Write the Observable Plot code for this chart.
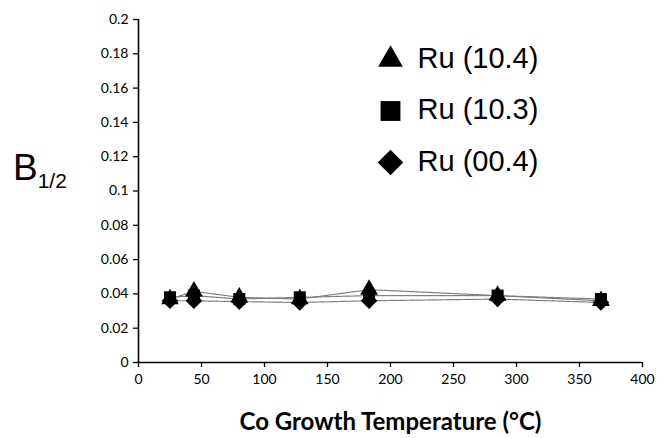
<!DOCTYPE html>
<html>
<head>
<meta charset="utf-8">
<script src="https://cdn.jsdelivr.net/npm/d3@7"></script>
<script src="https://cdn.jsdelivr.net/npm/@observablehq/plot@0.6"></script>
<style>
  html, body { margin: 0; padding: 0; background: #fff; }
  #chart { position: relative; width: 665px; height: 438px; }
  #chart svg { display: block; overflow: visible; }
</style>
</head>
<body>
<div id="chart"></div>
<script>
// Data
const temps = [25, 44, 80, 128, 183, 285, 367];
const ru104 = [0.037, 0.0415, 0.038, 0.037, 0.0425, 0.039, 0.036]; // triangle
const ru103 = [0.038, 0.039, 0.037, 0.038, 0.039, 0.039, 0.037];   // square
const ru004 = [0.036, 0.036, 0.0355, 0.035, 0.036, 0.037, 0.035];  // diamond
const seriesNames = ["Ru (10.4)", "Ru (10.3)", "Ru (00.4)"];
const seriesSymbols = ["triangle", "square", "diamond2"];
const xTicks = [0, 50, 100, 150, 200, 250, 300, 350, 400];
const yTicks = [0, 0.02, 0.04, 0.06, 0.08, 0.1, 0.12, 0.14, 0.16, 0.18, 0.2];

const seriesValues = [ru104, ru103, ru004];
const rows = [];
seriesValues.forEach((vals, s) => {
  vals.forEach((v, i) => rows.push({series: seriesNames[s], x: temps[i], y: v}));
});
const legendRows = seriesNames.map((name, i) => ({name, symbol: seriesSymbols[i], i}));

const symbolR = {"triangle": 6.6, "square": 6.8, "diamond2": 7.5};
const legendR = {"triangle": 9.2, "square": 11.2, "diamond2": 11.5};

const fmtY = d => d === 0 ? "0" : String(+d.toFixed(2));

const plot = Plot.plot({
  width: 665,
  height: 438,
  marginLeft: 138,
  marginRight: 23,
  marginTop: 19,
  marginBottom: 76,
  style: {fontFamily: "Lato, sans-serif", fontSize: "14px", color: "#000", background: "#fff"},
  x: {domain: [0, 400]},
  y: {domain: [0, 0.2]},
  marks: [
    Plot.axisY({ticks: yTicks, tickFormat: fmtY, tickSize: 5, tickPadding: 5, label: null, stroke: "#000", strokeWidth: 1.3}),
    Plot.axisX({ticks: xTicks, tickSize: 5, tickPadding: 7, stroke: "#000", strokeWidth: 1.3,
      label: "Co Growth Temperature (°C)", labelAnchor: "center", labelArrow: "none", labelOffset: 67}),
    Plot.ruleY([0], {stroke: "#000", strokeWidth: 1.6}),
    Plot.ruleX([0], {stroke: "#000", strokeWidth: 1.6}),
    ...seriesNames.map(name =>
      Plot.line(rows.filter(d => d.series === name), {x: "x", y: "y", stroke: "#7a7a7a", strokeWidth: 1.2, strokeDasharray: "1,1"})
    ),
    ...seriesNames.map((name, s) =>
      Plot.dot(rows.filter(d => d.series === name), {x: "x", y: "y", symbol: () => seriesSymbols[s], r: symbolR[seriesSymbols[s]], fill: "#000", stroke: "none"})
    ),
    // legend
    ...legendRows.map(d =>
      Plot.dot([d], {frameAnchor: "top-left", dx: 252, dy: 40 + d.i * 51.5, symbol: () => d.symbol, r: legendR[d.symbol], fill: "#000", stroke: "none"})
    ),
    ...legendRows.map(d =>
      Plot.text([d], {frameAnchor: "top-left", text: "name", dx: 279, dy: 39 + d.i * 51.5, textAnchor: "start", lineAnchor: "middle",
        fontFamily: "Liberation Sans, Arial, sans-serif", fontSize: 29, fill: "#000"})
    )
  ]
});

const svg = d3.select(plot);

// x-axis label styling
svg.selectAll("g[aria-label='x-axis label'] text")
  .style("font-family", "Lato, sans-serif").style("font-weight", "bold").style("font-size", "24px");

// y-axis title B_{1/2}
const yl = svg.append("text")
  .attr("x", 13).attr("y", 180)
  .attr("text-anchor", "start")
  .style("font-family", "Liberation Sans, Arial, sans-serif")
  .style("font-size", "37px").attr("fill", "#000");
yl.append("tspan").text("B");
yl.append("tspan").attr("dy", 8).style("font-size", "21px").text("1/2");

document.getElementById("chart").appendChild(plot);
</script>
</body>
</html>
